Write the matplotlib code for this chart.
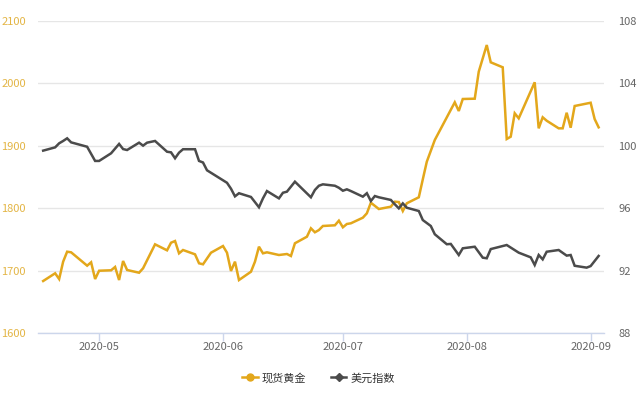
import pandas as pd
import matplotlib
matplotlib.use("Agg")
import matplotlib.pyplot as plt
import matplotlib.dates as mdates

plt.rcParams['font.family'] = ['Noto Sans CJK SC', 'DejaVu Sans']

# 现货黄金 (left axis)
gold_dates = [
    "2020-04-17", "2020-04-20", "2020-04-21", "2020-04-22", "2020-04-23", "2020-04-24",
    "2020-04-28", "2020-04-29", "2020-04-30", "2020-05-01", "2020-05-04", "2020-05-05",
    "2020-05-06", "2020-05-07", "2020-05-08", "2020-05-11", "2020-05-12", "2020-05-15",
    "2020-05-18", "2020-05-19", "2020-05-20", "2020-05-21", "2020-05-22", "2020-05-25",
    "2020-05-26", "2020-05-27", "2020-05-29", "2020-06-01", "2020-06-02", "2020-06-03",
    "2020-06-04", "2020-06-05", "2020-06-08", "2020-06-09", "2020-06-10", "2020-06-11",
    "2020-06-12", "2020-06-15", "2020-06-17", "2020-06-18", "2020-06-19", "2020-06-22",
    "2020-06-23", "2020-06-24", "2020-06-25", "2020-06-26", "2020-06-29", "2020-06-30",
    "2020-07-01", "2020-07-02", "2020-07-03", "2020-07-06", "2020-07-07", "2020-07-08",
    "2020-07-10", "2020-07-13", "2020-07-14", "2020-07-15", "2020-07-16", "2020-07-17",
    "2020-07-20", "2020-07-21", "2020-07-22", "2020-07-24", "2020-07-29", "2020-07-30",
    "2020-07-31", "2020-08-03", "2020-08-04", "2020-08-06", "2020-08-07", "2020-08-10",
    "2020-08-11", "2020-08-12", "2020-08-13", "2020-08-14", "2020-08-18", "2020-08-19",
    "2020-08-20", "2020-08-21", "2020-08-24", "2020-08-25", "2020-08-26", "2020-08-27",
    "2020-08-28", "2020-09-01", "2020-09-02", "2020-09-03",
]
gold_values = [
    1683.3, 1695.7, 1686.5, 1714.3, 1730.3, 1729.3,
    1707.9, 1713.3, 1686.5, 1699.8, 1700.5, 1705.8,
    1684.9, 1715.4, 1701.0, 1696.6, 1703.7, 1742.1,
    1732.5, 1744.7, 1747.4, 1727.7, 1733.0, 1726.1,
    1711.7, 1710.1, 1728.7, 1739.4, 1728.7, 1699.4,
    1714.3, 1684.9, 1698.2, 1714.3, 1738.3, 1727.7,
    1729.3, 1725.0, 1726.6, 1723.4, 1743.8, 1754.3,
    1767.8, 1761.4, 1765.0, 1771.5, 1772.6, 1780.0,
    1769.4, 1774.7, 1775.8, 1784.8, 1791.8, 1808.8,
    1798.7, 1802.4, 1810.4, 1809.9, 1795.5, 1807.9,
    1817.5, 1846.3, 1874.5, 1909.3, 1969.7, 1955.8,
    1975.0, 1975.5, 2018.8, 2061.5, 2033.8, 2025.8,
    1910.9, 1914.6, 1952.1, 1944.0, 2001.8, 1928.0,
    1945.7, 1940.2, 1928.0, 1928.0, 1953.0, 1929.0,
    1963.8, 1969.0, 1942.9, 1929.6,
]

# 美元指数 (right axis)
usd_dates = [
    "2020-04-17", "2020-04-20", "2020-04-21", "2020-04-22", "2020-04-23", "2020-04-24",
    "2020-04-28", "2020-04-30", "2020-05-01", "2020-05-04", "2020-05-06", "2020-05-07",
    "2020-05-08", "2020-05-11", "2020-05-12", "2020-05-13", "2020-05-15", "2020-05-18",
    "2020-05-19", "2020-05-20", "2020-05-21", "2020-05-22", "2020-05-25", "2020-05-26",
    "2020-05-27", "2020-05-28", "2020-06-02", "2020-06-03", "2020-06-04", "2020-06-05",
    "2020-06-08", "2020-06-10", "2020-06-11", "2020-06-12", "2020-06-15", "2020-06-16",
    "2020-06-17", "2020-06-19", "2020-06-23", "2020-06-24", "2020-06-25", "2020-06-26",
    "2020-06-29", "2020-06-30", "2020-07-01", "2020-07-02", "2020-07-03", "2020-07-06",
    "2020-07-07", "2020-07-08", "2020-07-09", "2020-07-10", "2020-07-13", "2020-07-14",
    "2020-07-15", "2020-07-16", "2020-07-17", "2020-07-20", "2020-07-21", "2020-07-23",
    "2020-07-24", "2020-07-27", "2020-07-28", "2020-07-30", "2020-07-31", "2020-08-03",
    "2020-08-05", "2020-08-06", "2020-08-07", "2020-08-11", "2020-08-14", "2020-08-17",
    "2020-08-18", "2020-08-19", "2020-08-20", "2020-08-21", "2020-08-24", "2020-08-26",
    "2020-08-27", "2020-08-28", "2020-08-31", "2020-09-01", "2020-09-03",
]
usd_values = [
    99.69, 99.90, 100.16, 100.31, 100.48, 100.22,
    99.94, 99.03, 99.03, 99.52, 100.12, 99.79,
    99.73, 100.20, 100.01, 100.20, 100.31, 99.62,
    99.58, 99.20, 99.56, 99.78, 99.78, 99.03,
    98.93, 98.43, 97.63, 97.25, 96.76, 96.96,
    96.72, 96.06, 96.63, 97.10, 96.63, 96.99,
    97.06, 97.70, 96.70, 97.17, 97.44, 97.53,
    97.44, 97.31, 97.12, 97.21, 97.10, 96.74,
    96.96, 96.46, 96.78, 96.70, 96.53, 96.25,
    95.99, 96.31, 96.03, 95.82, 95.24, 94.86,
    94.33, 93.69, 93.71, 93.00, 93.43, 93.53,
    92.83, 92.79, 93.38, 93.64, 93.15, 92.85,
    92.36, 93.00, 92.72, 93.21, 93.32, 92.96,
    93.00, 92.31, 92.19, 92.29, 92.94,
]

gold_ticks = [1600, 1700, 1800, 1900, 2000, 2100]
usd_ticks = [88, 92, 96, 100, 104, 108]
series_names = ["现货黄金", "美元指数"]

GOLD = "#E3A71B"
DARK = "#4B4B4B"

fig = plt.figure(figsize=(6.4, 4), dpi=100)
ax = fig.add_axes([38 / 640, 1 - 333 / 400, (604.3 - 38) / 640, (333 - 21) / 400])
ax2 = ax.twinx()

gx = pd.to_datetime(gold_dates)
ux = pd.to_datetime(usd_dates)
ax.plot(gx, gold_values, color=GOLD, lw=1.8, solid_joinstyle="miter")
ax2.plot(ux, usd_values, color=DARK, lw=1.8, solid_joinstyle="miter")

ax.set_xlim(pd.Timestamp("2020-04-15 17:00"), pd.Timestamp("2020-09-04 10:00"))
ax.set_ylim(1600, 2100)
ax2.set_ylim(88, 108)
ax.set_yticks(gold_ticks)
ax2.set_yticks(usd_ticks)

ax.grid(axis="y", color="#e6e6e6", lw=1)
ax.set_axisbelow(True)

for a in (ax, ax2):
    for s in ("top", "left", "right", "bottom"):
        a.spines[s].set_visible(False)
ax.spines["bottom"].set_visible(True)
ax.spines["bottom"].set_color("#ccd6eb")
ax.spines["bottom"].set_linewidth(1)

ax.xaxis.set_major_locator(mdates.MonthLocator())
ax.xaxis.set_major_formatter(mdates.DateFormatter("%Y-%m"))
ax.tick_params(axis="x", colors="#ccd6eb", length=5.5, width=1, labelcolor="#666666",
               labelsize=8, pad=1)
ax.tick_params(axis="y", length=0, labelcolor="#E3B545", labelsize=8, pad=26.5)
ax2.tick_params(axis="y", length=0, labelcolor="#666666", labelsize=8, pad=10)
for lab in ax.get_yticklabels():
    lab.set_horizontalalignment("left")

h1 = plt.Line2D([], [], color=GOLD, lw=1.8, marker="o", markersize=5)
h2 = plt.Line2D([], [], color=DARK, lw=1.8, marker="D", markersize=4)
fig.legend([h1, h2], series_names, loc="center", bbox_to_anchor=(0.498, 0.055),
           ncol=2, frameon=False, fontsize=8, handlelength=1.4, handletextpad=0.4,
           columnspacing=2.2, labelcolor="#333333")

fig.savefig("out.png", dpi=100)
